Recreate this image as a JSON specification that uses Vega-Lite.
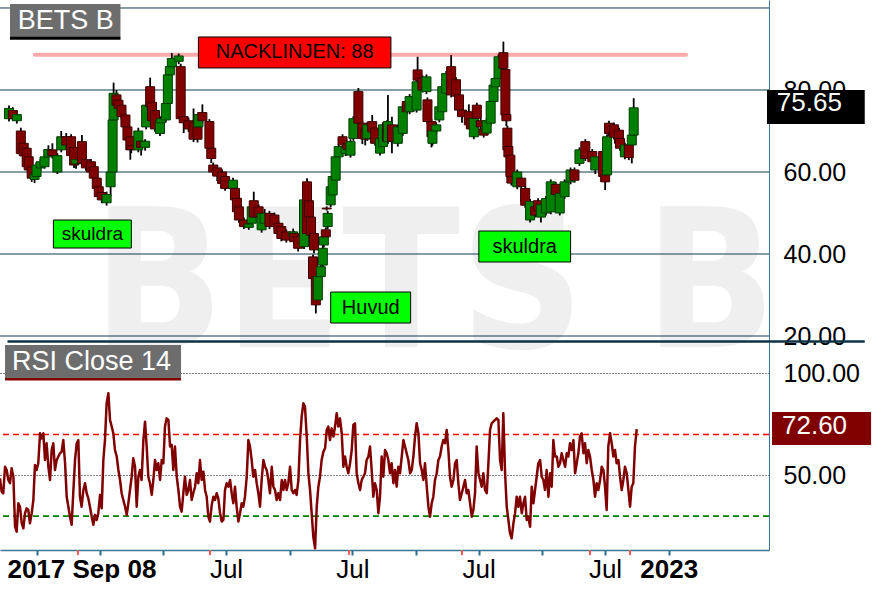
{
"$schema":"https://vega.github.io/schema/vega-lite/v6.json",
"padding":0,
"autosize":{"type":"pad"},
"bounds":"flush",
"spacing":0,
"background":"#ffffff",
"config":{"view":{"stroke":null},"font":"Liberation Sans"},
"datasets":{
"candles":[
{"t":2017.739,"o":73,"h":76.2,"l":72.3,"c":75.5},
{"t":2017.770,"o":75,"h":75.8,"l":72.5,"c":73},
{"t":2017.802,"o":72.5,"h":74.8,"l":71.8,"c":74},
{"t":2017.834,"o":70,"h":70.8,"l":63.8,"c":64.5},
{"t":2017.857,"o":67,"h":67.5,"l":63.2,"c":64},
{"t":2017.881,"o":65.8,"h":66.5,"l":60.5,"c":61.3},
{"t":2017.897,"o":63.7,"h":64.3,"l":59.8,"c":60.5},
{"t":2017.921,"o":61.3,"h":61.8,"l":57.6,"c":58.5},
{"t":2017.944,"o":58.2,"h":60,"l":57.3,"c":59.5},
{"t":2017.960,"o":58.9,"h":62.3,"l":58.2,"c":61.7},
{"t":2017.992,"o":61,"h":63.2,"l":60.3,"c":62.5},
{"t":2018.024,"o":61.3,"h":65.5,"l":60.8,"c":63.7},
{"t":2018.055,"o":63.7,"h":66.5,"l":63,"c":65.5},
{"t":2018.087,"o":65.4,"h":67,"l":63.3,"c":64},
{"t":2018.127,"o":60,"h":64.6,"l":59.5,"c":64},
{"t":2018.158,"o":65.4,"h":70,"l":64.8,"c":68.6},
{"t":2018.198,"o":68.6,"h":69.5,"l":65.8,"c":66.6},
{"t":2018.237,"o":68.6,"h":69.2,"l":63.2,"c":64},
{"t":2018.261,"o":66,"h":66.6,"l":61,"c":61.7},
{"t":2018.277,"o":62,"h":63.6,"l":60.8,"c":63},
{"t":2018.324,"o":67.4,"h":69,"l":61.5,"c":62.1},
{"t":2018.356,"o":63,"h":63.8,"l":60.3,"c":61},
{"t":2018.396,"o":62.5,"h":63.2,"l":59.4,"c":60},
{"t":2018.419,"o":61.3,"h":61.9,"l":57.8,"c":58.5},
{"t":2018.443,"o":58.5,"h":59.2,"l":55.4,"c":56},
{"t":2018.459,"o":56.4,"h":57,"l":53.4,"c":54},
{"t":2018.483,"o":55,"h":55.6,"l":52.4,"c":53.2},
{"t":2018.522,"o":52.5,"h":55.2,"l":51.8,"c":54.5},
{"t":2018.554,"o":56.4,"h":60.6,"l":54.2,"c":60},
{"t":2018.570,"o":60,"h":73.2,"l":59.6,"c":72.7},
{"t":2018.578,"o":72.7,"h":81.8,"l":72.2,"c":79.2},
{"t":2018.601,"o":78.8,"h":80,"l":75.7,"c":76.3},
{"t":2018.617,"o":77.5,"h":78.2,"l":74.8,"c":75.5},
{"t":2018.641,"o":76.3,"h":77,"l":72.8,"c":73.5},
{"t":2018.673,"o":73.9,"h":74.5,"l":70.4,"c":71},
{"t":2018.689,"o":71,"h":71.6,"l":67,"c":67.8},
{"t":2018.712,"o":68.6,"h":69.2,"l":63,"c":65.4},
{"t":2018.720,"o":66.5,"h":67.2,"l":64.6,"c":65.5},
{"t":2018.776,"o":65.4,"h":70.8,"l":64.8,"c":70},
{"t":2018.799,"o":67.5,"h":68.2,"l":64,"c":66},
{"t":2018.831,"o":66,"h":68,"l":65.2,"c":67.5},
{"t":2018.839,"o":71,"h":77,"l":70.4,"c":76.3},
{"t":2018.871,"o":80.8,"h":83,"l":75.4,"c":76},
{"t":2018.886,"o":77,"h":77.6,"l":71.8,"c":72.5},
{"t":2018.910,"o":75,"h":75.6,"l":69.8,"c":70.5},
{"t":2018.950,"o":69.4,"h":73.4,"l":68.8,"c":72.7},
{"t":2018.958,"o":72,"h":73.6,"l":71.4,"c":73},
{"t":2018.997,"o":72.7,"h":77.3,"l":72.1,"c":76.7},
{"t":2019.013,"o":76.7,"h":84.3,"l":76.2,"c":83.7},
{"t":2019.029,"o":83.7,"h":86.3,"l":83.1,"c":85.7},
{"t":2019.045,"o":85.7,"h":89,"l":85.1,"c":87.7},
{"t":2019.100,"o":87,"h":88.9,"l":86.3,"c":88.3},
{"t":2019.116,"o":85.7,"h":86.4,"l":72.3,"c":73},
{"t":2019.140,"o":73.5,"h":74.2,"l":69.5,"c":72},
{"t":2019.179,"o":72.5,"h":73.2,"l":69.8,"c":70.5},
{"t":2019.219,"o":72,"h":75.5,"l":67.3,"c":68},
{"t":2019.251,"o":71,"h":71.6,"l":67.2,"c":68},
{"t":2019.258,"o":71,"h":74.6,"l":70.3,"c":74},
{"t":2019.290,"o":74.5,"h":76.5,"l":71.8,"c":72.5},
{"t":2019.346,"o":72.3,"h":72.9,"l":65.2,"c":65.8},
{"t":2019.361,"o":65.8,"h":66.4,"l":62.2,"c":63.3},
{"t":2019.377,"o":61.7,"h":62.3,"l":59.3,"c":60},
{"t":2019.409,"o":61,"h":61.6,"l":57.8,"c":59},
{"t":2019.448,"o":60,"h":60.6,"l":56.3,"c":57.2},
{"t":2019.472,"o":58.9,"h":59.5,"l":55.4,"c":56},
{"t":2019.536,"o":56,"h":58.6,"l":55.4,"c":58},
{"t":2019.551,"o":56,"h":56.6,"l":52.5,"c":53.2},
{"t":2019.567,"o":53.6,"h":54.2,"l":49.6,"c":50.3},
{"t":2019.583,"o":51.5,"h":52.1,"l":47.6,"c":48.3},
{"t":2019.623,"o":48.3,"h":48.9,"l":46.1,"c":46.7},
{"t":2019.662,"o":46.5,"h":47.9,"l":45.9,"c":47.3},
{"t":2019.686,"o":47.5,"h":52.1,"l":46.9,"c":51.5},
{"t":2019.702,"o":53,"h":55.2,"l":48.4,"c":49},
{"t":2019.741,"o":51.5,"h":52.1,"l":48.4,"c":49},
{"t":2019.765,"o":45.9,"h":50.5,"l":45.2,"c":49.9},
{"t":2019.789,"o":47.5,"h":51,"l":46.9,"c":49.9},
{"t":2019.828,"o":49.9,"h":50.5,"l":46.1,"c":46.7},
{"t":2019.868,"o":49.5,"h":50.1,"l":46,"c":46.7},
{"t":2019.900,"o":47.5,"h":48.1,"l":44.3,"c":45},
{"t":2019.923,"o":46.7,"h":47.3,"l":43.1,"c":43.8},
{"t":2019.963,"o":45.4,"h":46,"l":42.8,"c":43.4},
{"t":2020.018,"o":44.2,"h":46.2,"l":43.6,"c":45.4},
{"t":2020.026,"o":45,"h":45.6,"l":42.3,"c":43},
{"t":2020.058,"o":44.2,"h":44.8,"l":40.6,"c":41.4},
{"t":2020.105,"o":41.8,"h":55,"l":41.2,"c":53.2},
{"t":2020.129,"o":57.6,"h":58.5,"l":44.4,"c":45},
{"t":2020.145,"o":53,"h":53.6,"l":48.4,"c":49},
{"t":2020.161,"o":49,"h":49.6,"l":44,"c":44.6},
{"t":2020.177,"o":39.3,"h":39.9,"l":33.3,"c":34},
{"t":2020.185,"o":45,"h":45.6,"l":40.2,"c":41},
{"t":2020.200,"o":34.5,"h":35.1,"l":25.5,"c":27.6},
{"t":2020.216,"o":28.8,"h":35.1,"l":28.2,"c":34.5},
{"t":2020.240,"o":34.5,"h":37.5,"l":33.9,"c":36.9},
{"t":2020.256,"o":37.3,"h":44,"l":36.7,"c":41.4},
{"t":2020.264,"o":42.2,"h":44.8,"l":41.6,"c":44.2},
{"t":2020.280,"o":45.9,"h":46.5,"l":43.6,"c":44.2},
{"t":2020.287,"o":51.2,"h":51.6,"l":50.6,"c":51},
{"t":2020.295,"o":46.7,"h":50.5,"l":46.1,"c":49.9},
{"t":2020.319,"o":52,"h":57,"l":51.4,"c":56.4},
{"t":2020.335,"o":54.4,"h":59.5,"l":53.8,"c":58.9},
{"t":2020.359,"o":58,"h":64.3,"l":57.4,"c":63.7},
{"t":2020.383,"o":63.7,"h":66.8,"l":63.1,"c":66.2},
{"t":2020.414,"o":68.6,"h":69.2,"l":66,"c":66.6},
{"t":2020.438,"o":64.5,"h":66.6,"l":63.9,"c":66},
{"t":2020.454,"o":67,"h":67.6,"l":64.9,"c":65.5},
{"t":2020.478,"o":64.1,"h":68,"l":63.5,"c":67.4},
{"t":2020.501,"o":68.2,"h":73.6,"l":67.6,"c":73},
{"t":2020.541,"o":79.6,"h":80.5,"l":71.3,"c":71.9},
{"t":2020.573,"o":71.9,"h":72.5,"l":66.8,"c":68.2},
{"t":2020.596,"o":70.5,"h":71.1,"l":66.5,"c":68},
{"t":2020.612,"o":68.2,"h":72.1,"l":67.6,"c":71.5},
{"t":2020.652,"o":72.3,"h":73.9,"l":69.2,"c":69.8},
{"t":2020.675,"o":70.7,"h":71.3,"l":66.4,"c":67},
{"t":2020.715,"o":64.6,"h":68.8,"l":64,"c":68.2},
{"t":2020.739,"o":66.2,"h":72.1,"l":65.6,"c":71.5},
{"t":2020.770,"o":72,"h":72.6,"l":66.9,"c":67.5},
{"t":2020.778,"o":67.4,"h":78.8,"l":66.8,"c":72.3},
{"t":2020.810,"o":71.5,"h":73.5,"l":64.6,"c":67.5},
{"t":2020.857,"o":67,"h":71.6,"l":66.2,"c":71},
{"t":2020.897,"o":69.4,"h":76.5,"l":68.8,"c":75.9},
{"t":2020.929,"o":77.2,"h":77.8,"l":74.1,"c":74.7},
{"t":2020.952,"o":74.7,"h":79,"l":74.1,"c":78.4},
{"t":2021.008,"o":75.1,"h":82.6,"l":74.5,"c":82},
{"t":2021.016,"o":84.9,"h":88.1,"l":81.8,"c":82.4},
{"t":2021.055,"o":83,"h":83.6,"l":79.4,"c":80},
{"t":2021.087,"o":79.6,"h":83.8,"l":79,"c":83.2},
{"t":2021.095,"o":77.6,"h":78.2,"l":71.7,"c":72.3},
{"t":2021.127,"o":72.3,"h":72.9,"l":66,"c":68.6},
{"t":2021.135,"o":67,"h":70.6,"l":66.4,"c":70},
{"t":2021.166,"o":70,"h":72.1,"l":69.4,"c":71.5},
{"t":2021.190,"o":72.7,"h":76.5,"l":72.1,"c":75.9},
{"t":2021.214,"o":74.7,"h":81.4,"l":74.1,"c":80.8},
{"t":2021.245,"o":79.2,"h":84.6,"l":78.6,"c":84},
{"t":2021.285,"o":85.7,"h":88.5,"l":78.2,"c":78.8},
{"t":2021.324,"o":82.5,"h":83.1,"l":77.9,"c":78.5},
{"t":2021.348,"o":78.8,"h":79.4,"l":74.5,"c":75.1},
{"t":2021.372,"o":75.1,"h":75.7,"l":72,"c":73.5},
{"t":2021.427,"o":74.7,"h":76.5,"l":70.9,"c":71.5},
{"t":2021.443,"o":73,"h":73.6,"l":69.9,"c":70.5},
{"t":2021.467,"o":68.6,"h":73.7,"l":68,"c":73.1},
{"t":2021.491,"o":76.3,"h":76.9,"l":72.5,"c":73.1},
{"t":2021.522,"o":72.5,"h":73.1,"l":70.4,"c":71},
{"t":2021.546,"o":70.5,"h":71.1,"l":68.4,"c":69},
{"t":2021.570,"o":69.5,"h":73.1,"l":68.9,"c":72.5},
{"t":2021.602,"o":71.9,"h":77.8,"l":71.3,"c":77.2},
{"t":2021.625,"o":77.2,"h":81.8,"l":76.6,"c":81.2},
{"t":2021.641,"o":80.8,"h":83.4,"l":80.2,"c":82.8},
{"t":2021.665,"o":82.8,"h":88.7,"l":82.2,"c":88.1},
{"t":2021.704,"o":89.1,"h":91.8,"l":84.7,"c":85.3},
{"t":2021.720,"o":85,"h":85.6,"l":73.3,"c":73.9},
{"t":2021.728,"o":74,"h":74.6,"l":71.2,"c":72.5},
{"t":2021.736,"o":70.7,"h":71.3,"l":64.8,"c":65.4},
{"t":2021.744,"o":66.2,"h":66.8,"l":63.1,"c":63.7},
{"t":2021.760,"o":64.1,"h":64.7,"l":58.3,"c":58.9},
{"t":2021.768,"o":58.9,"h":59.5,"l":56.7,"c":57.3},
{"t":2021.815,"o":56.4,"h":60.6,"l":55.8,"c":60},
{"t":2021.847,"o":58.5,"h":59.1,"l":52.7,"c":56.5},
{"t":2021.879,"o":56,"h":56.6,"l":51.3,"c":51.9},
{"t":2021.918,"o":48.3,"h":53.4,"l":47.7,"c":52.8},
{"t":2021.958,"o":51.5,"h":52.1,"l":48.9,"c":49.5},
{"t":2021.982,"o":53,"h":53.6,"l":49.9,"c":50.5},
{"t":2022.005,"o":49,"h":52.6,"l":47.7,"c":52},
{"t":2022.045,"o":50,"h":54.1,"l":49.4,"c":53.5},
{"t":2022.084,"o":50.3,"h":58.2,"l":49.7,"c":57.6},
{"t":2022.124,"o":57,"h":57.6,"l":53.9,"c":54.5},
{"t":2022.156,"o":50,"h":55.4,"l":49.4,"c":54.8},
{"t":2022.195,"o":54,"h":58.2,"l":53.4,"c":57.6},
{"t":2022.243,"o":57.6,"h":61.1,"l":57,"c":60.5},
{"t":2022.274,"o":60.5,"h":61.1,"l":57.4,"c":58},
{"t":2022.314,"o":62.1,"h":66,"l":61.5,"c":65.4},
{"t":2022.361,"o":67.4,"h":68,"l":62.7,"c":63.3},
{"t":2022.417,"o":65,"h":65.6,"l":61.9,"c":62.5},
{"t":2022.441,"o":60.5,"h":64.3,"l":59.5,"c":63.7},
{"t":2022.504,"o":65,"h":65.6,"l":58.3,"c":58.9},
{"t":2022.520,"o":59.3,"h":59.9,"l":55.6,"c":57.6},
{"t":2022.536,"o":59.3,"h":69.2,"l":58.7,"c":68.6},
{"t":2022.551,"o":71.9,"h":72.5,"l":68.8,"c":69.4},
{"t":2022.591,"o":71.5,"h":72.1,"l":67.9,"c":68.5},
{"t":2022.631,"o":70.2,"h":70.8,"l":66.4,"c":67},
{"t":2022.639,"o":68.2,"h":68.8,"l":65.2,"c":65.8},
{"t":2022.678,"o":63.7,"h":67.2,"l":63.1,"c":66.6},
{"t":2022.710,"o":66.6,"h":67.2,"l":62.9,"c":63.5},
{"t":2022.734,"o":66.6,"h":69.6,"l":62.1,"c":69},
{"t":2022.749,"o":69,"h":78,"l":68.4,"c":75.65}
],
"rsi":[
{"t":2017.707,"r":48.5},{"t":2017.720,"r":42.0},{"t":2017.733,"r":41.2},{"t":2017.747,"r":54.2},{"t":2017.760,"r":52.6},
{"t":2017.773,"r":47.7},{"t":2017.786,"r":46.1},{"t":2017.799,"r":53.4},{"t":2017.813,"r":49.3},{"t":2017.826,"r":24.8},
{"t":2017.839,"r":22.4},{"t":2017.852,"r":36.3},{"t":2017.865,"r":34.6},{"t":2017.879,"r":26.5},{"t":2017.892,"r":24.0},
{"t":2017.905,"r":31.4},{"t":2017.918,"r":33.8},{"t":2017.931,"r":33.0},{"t":2017.944,"r":26.5},{"t":2017.958,"r":31.4},
{"t":2017.971,"r":37.9},{"t":2017.984,"r":55.1},{"t":2017.997,"r":52.6},{"t":2018.010,"r":55.9},{"t":2018.024,"r":70.6},
{"t":2018.037,"r":68.1},{"t":2018.050,"r":70.6},{"t":2018.063,"r":57.5},{"t":2018.076,"r":65.7},{"t":2018.090,"r":54.2},
{"t":2018.103,"r":47.7},{"t":2018.116,"r":62.4},{"t":2018.129,"r":65.7},{"t":2018.142,"r":52.6},{"t":2018.156,"r":57.5},
{"t":2018.169,"r":59.2},{"t":2018.182,"r":60.8},{"t":2018.195,"r":61.6},{"t":2018.208,"r":67.3},{"t":2018.222,"r":55.9},
{"t":2018.235,"r":39.5},{"t":2018.248,"r":34.6},{"t":2018.261,"r":29.7},{"t":2018.274,"r":25.7},{"t":2018.288,"r":42.8},
{"t":2018.301,"r":57.5},{"t":2018.314,"r":65.7},{"t":2018.327,"r":67.3},{"t":2018.340,"r":39.5},{"t":2018.353,"r":34.6},
{"t":2018.367,"r":42.8},{"t":2018.380,"r":46.1},{"t":2018.393,"r":41.2},{"t":2018.406,"r":38.7},{"t":2018.419,"r":34.6},
{"t":2018.433,"r":29.7},{"t":2018.446,"r":25.7},{"t":2018.459,"r":30.6},{"t":2018.472,"r":28.1},{"t":2018.485,"r":31.4},
{"t":2018.499,"r":40.4},{"t":2018.512,"r":33.8},{"t":2018.525,"r":57.5},{"t":2018.538,"r":67.3},{"t":2018.551,"r":85.3},
{"t":2018.565,"r":90.2},{"t":2018.578,"r":77.1},{"t":2018.591,"r":73.9},{"t":2018.604,"r":70.6},{"t":2018.617,"r":62.4},
{"t":2018.631,"r":59.2},{"t":2018.644,"r":52.6},{"t":2018.657,"r":47.7},{"t":2018.670,"r":41.2},{"t":2018.683,"r":37.9},
{"t":2018.697,"r":34.6},{"t":2018.710,"r":30.6},{"t":2018.723,"r":36.3},{"t":2018.736,"r":42.8},{"t":2018.749,"r":49.3},
{"t":2018.762,"r":58.3},{"t":2018.776,"r":54.2},{"t":2018.789,"r":34.6},{"t":2018.802,"r":49.3},{"t":2018.815,"r":52.6},
{"t":2018.828,"r":47.7},{"t":2018.842,"r":67.3},{"t":2018.855,"r":76.3},{"t":2018.868,"r":64.1},{"t":2018.881,"r":49.3},
{"t":2018.894,"r":46.1},{"t":2018.908,"r":40.4},{"t":2018.921,"r":47.7},{"t":2018.934,"r":57.5},{"t":2018.947,"r":52.6},
{"t":2018.960,"r":55.9},{"t":2018.974,"r":47.7},{"t":2018.987,"r":57.5},{"t":2019.000,"r":55.9},{"t":2019.013,"r":73.9},
{"t":2019.026,"r":77.9},{"t":2019.040,"r":77.1},{"t":2019.053,"r":64.1},{"t":2019.066,"r":64.9},{"t":2019.079,"r":52.6},
{"t":2019.092,"r":64.1},{"t":2019.106,"r":49.3},{"t":2019.119,"r":42.8},{"t":2019.132,"r":34.6},{"t":2019.145,"r":32.2},
{"t":2019.158,"r":41.2},{"t":2019.171,"r":49.3},{"t":2019.185,"r":40.4},{"t":2019.198,"r":42.8},{"t":2019.211,"r":47.7},
{"t":2019.224,"r":37.9},{"t":2019.237,"r":41.2},{"t":2019.251,"r":44.4},{"t":2019.264,"r":51.0},{"t":2019.277,"r":46.1},
{"t":2019.290,"r":57.5},{"t":2019.303,"r":47.7},{"t":2019.317,"r":51.8},{"t":2019.330,"r":42.8},{"t":2019.343,"r":39.5},
{"t":2019.356,"r":29.7},{"t":2019.369,"r":27.3},{"t":2019.383,"r":35.5},{"t":2019.396,"r":39.5},{"t":2019.409,"r":37.9},
{"t":2019.422,"r":41.2},{"t":2019.435,"r":38.7},{"t":2019.449,"r":31.4},{"t":2019.462,"r":27.3},{"t":2019.475,"r":28.1},
{"t":2019.488,"r":42.8},{"t":2019.501,"r":46.1},{"t":2019.515,"r":44.4},{"t":2019.528,"r":47.7},{"t":2019.541,"r":41.2},
{"t":2019.554,"r":36.3},{"t":2019.567,"r":44.4},{"t":2019.580,"r":34.6},{"t":2019.594,"r":27.3},{"t":2019.607,"r":31.4},
{"t":2019.620,"r":36.3},{"t":2019.633,"r":34.6},{"t":2019.646,"r":39.5},{"t":2019.660,"r":49.3},{"t":2019.673,"r":67.3},
{"t":2019.686,"r":64.1},{"t":2019.699,"r":57.5},{"t":2019.712,"r":49.3},{"t":2019.726,"r":52.6},{"t":2019.739,"r":46.1},
{"t":2019.752,"r":41.2},{"t":2019.765,"r":34.6},{"t":2019.778,"r":47.7},{"t":2019.792,"r":57.5},{"t":2019.805,"r":54.2},
{"t":2019.818,"r":52.6},{"t":2019.831,"r":47.7},{"t":2019.844,"r":41.2},{"t":2019.858,"r":54.2},{"t":2019.871,"r":44.4},
{"t":2019.884,"r":42.8},{"t":2019.897,"r":37.9},{"t":2019.910,"r":41.2},{"t":2019.924,"r":37.9},{"t":2019.937,"r":47.7},
{"t":2019.950,"r":42.8},{"t":2019.963,"r":47.7},{"t":2019.976,"r":42.8},{"t":2019.989,"r":46.1},{"t":2020.003,"r":54.2},
{"t":2020.016,"r":42.8},{"t":2020.029,"r":41.2},{"t":2020.042,"r":42.8},{"t":2020.055,"r":40.4},{"t":2020.069,"r":47.7},
{"t":2020.082,"r":67.3},{"t":2020.095,"r":78.8},{"t":2020.108,"r":85.3},{"t":2020.121,"r":83.7},{"t":2020.135,"r":69.0},
{"t":2020.148,"r":51.0},{"t":2020.161,"r":42.8},{"t":2020.174,"r":31.4},{"t":2020.187,"r":19.9},{"t":2020.201,"r":14.2},
{"t":2020.214,"r":34.6},{"t":2020.227,"r":44.4},{"t":2020.240,"r":49.3},{"t":2020.253,"r":57.5},{"t":2020.267,"r":61.6},
{"t":2020.280,"r":63.2},{"t":2020.293,"r":72.2},{"t":2020.306,"r":73.9},{"t":2020.319,"r":67.3},{"t":2020.332,"r":73.0},
{"t":2020.346,"r":69.0},{"t":2020.359,"r":73.9},{"t":2020.372,"r":80.4},{"t":2020.385,"r":73.9},{"t":2020.398,"r":77.9},
{"t":2020.412,"r":70.6},{"t":2020.425,"r":54.2},{"t":2020.438,"r":59.2},{"t":2020.451,"r":54.2},{"t":2020.464,"r":51.0},
{"t":2020.478,"r":55.9},{"t":2020.491,"r":62.4},{"t":2020.504,"r":74.7},{"t":2020.517,"r":75.5},{"t":2020.530,"r":51.0},
{"t":2020.544,"r":46.1},{"t":2020.557,"r":42.8},{"t":2020.570,"r":47.7},{"t":2020.583,"r":49.3},{"t":2020.596,"r":51.0},
{"t":2020.609,"r":57.5},{"t":2020.623,"r":59.2},{"t":2020.636,"r":64.1},{"t":2020.649,"r":52.6},{"t":2020.662,"r":39.5},
{"t":2020.675,"r":46.1},{"t":2020.689,"r":42.8},{"t":2020.702,"r":31.4},{"t":2020.715,"r":39.5},{"t":2020.728,"r":59.2},
{"t":2020.741,"r":49.3},{"t":2020.755,"r":62.4},{"t":2020.768,"r":60.8},{"t":2020.781,"r":57.5},{"t":2020.794,"r":51.0},
{"t":2020.807,"r":55.9},{"t":2020.821,"r":46.1},{"t":2020.834,"r":52.6},{"t":2020.847,"r":44.4},{"t":2020.860,"r":54.2},
{"t":2020.873,"r":51.0},{"t":2020.887,"r":59.2},{"t":2020.900,"r":67.3},{"t":2020.913,"r":64.1},{"t":2020.926,"r":60.8},
{"t":2020.939,"r":57.5},{"t":2020.953,"r":51.0},{"t":2020.966,"r":52.6},{"t":2020.979,"r":59.2},{"t":2020.992,"r":69.0},
{"t":2021.005,"r":75.5},{"t":2021.019,"r":70.6},{"t":2021.032,"r":55.9},{"t":2021.045,"r":52.6},{"t":2021.058,"r":47.7},
{"t":2021.071,"r":55.9},{"t":2021.085,"r":44.4},{"t":2021.098,"r":34.6},{"t":2021.111,"r":29.7},{"t":2021.124,"r":36.3},
{"t":2021.137,"r":39.5},{"t":2021.150,"r":47.7},{"t":2021.164,"r":51.0},{"t":2021.177,"r":57.5},{"t":2021.190,"r":59.2},
{"t":2021.203,"r":64.1},{"t":2021.216,"r":67.3},{"t":2021.230,"r":65.7},{"t":2021.243,"r":72.2},{"t":2021.256,"r":62.4},
{"t":2021.269,"r":49.3},{"t":2021.282,"r":44.4},{"t":2021.296,"r":47.7},{"t":2021.309,"r":55.9},{"t":2021.322,"r":57.5},
{"t":2021.335,"r":46.1},{"t":2021.348,"r":37.9},{"t":2021.362,"r":41.2},{"t":2021.375,"r":44.4},{"t":2021.388,"r":47.7},
{"t":2021.401,"r":41.2},{"t":2021.414,"r":42.8},{"t":2021.428,"r":36.3},{"t":2021.441,"r":29.7},{"t":2021.454,"r":33.0},
{"t":2021.467,"r":41.2},{"t":2021.480,"r":64.1},{"t":2021.494,"r":51.0},{"t":2021.507,"r":47.7},{"t":2021.520,"r":44.4},
{"t":2021.533,"r":51.0},{"t":2021.546,"r":42.8},{"t":2021.560,"r":41.2},{"t":2021.573,"r":55.9},{"t":2021.586,"r":72.2},
{"t":2021.599,"r":75.5},{"t":2021.612,"r":76.3},{"t":2021.625,"r":77.1},{"t":2021.639,"r":77.9},{"t":2021.652,"r":77.1},
{"t":2021.665,"r":57.5},{"t":2021.678,"r":52.6},{"t":2021.691,"r":80.4},{"t":2021.705,"r":51.0},{"t":2021.718,"r":34.6},
{"t":2021.731,"r":28.1},{"t":2021.744,"r":21.6},{"t":2021.757,"r":19.1},{"t":2021.771,"r":26.5},{"t":2021.784,"r":31.4},
{"t":2021.797,"r":39.5},{"t":2021.810,"r":34.6},{"t":2021.823,"r":39.5},{"t":2021.837,"r":31.4},{"t":2021.850,"r":36.3},
{"t":2021.863,"r":39.5},{"t":2021.876,"r":28.1},{"t":2021.889,"r":29.7},{"t":2021.903,"r":24.8},{"t":2021.916,"r":44.4},
{"t":2021.929,"r":36.3},{"t":2021.942,"r":42.8},{"t":2021.955,"r":49.3},{"t":2021.968,"r":55.9},{"t":2021.982,"r":57.5},
{"t":2021.995,"r":49.3},{"t":2022.008,"r":47.7},{"t":2022.021,"r":42.8},{"t":2022.034,"r":52.6},{"t":2022.048,"r":39.5},
{"t":2022.061,"r":51.0},{"t":2022.074,"r":44.4},{"t":2022.087,"r":67.3},{"t":2022.100,"r":59.2},{"t":2022.114,"r":59.2},
{"t":2022.127,"r":54.2},{"t":2022.140,"r":55.9},{"t":2022.153,"r":60.8},{"t":2022.166,"r":57.5},{"t":2022.180,"r":54.2},
{"t":2022.193,"r":60.8},{"t":2022.206,"r":59.2},{"t":2022.219,"r":65.7},{"t":2022.232,"r":62.4},{"t":2022.246,"r":67.3},
{"t":2022.259,"r":51.0},{"t":2022.272,"r":55.9},{"t":2022.285,"r":60.8},{"t":2022.298,"r":69.0},{"t":2022.311,"r":70.6},
{"t":2022.325,"r":60.8},{"t":2022.338,"r":65.7},{"t":2022.351,"r":55.9},{"t":2022.364,"r":62.4},{"t":2022.377,"r":59.2},
{"t":2022.391,"r":52.6},{"t":2022.404,"r":47.7},{"t":2022.417,"r":39.5},{"t":2022.430,"r":46.1},{"t":2022.443,"r":42.8},
{"t":2022.457,"r":47.7},{"t":2022.470,"r":54.2},{"t":2022.483,"r":52.6},{"t":2022.496,"r":44.4},{"t":2022.509,"r":33.0},
{"t":2022.522,"r":64.1},{"t":2022.536,"r":70.6},{"t":2022.549,"r":65.7},{"t":2022.562,"r":59.2},{"t":2022.575,"r":62.4},
{"t":2022.588,"r":55.9},{"t":2022.602,"r":57.5},{"t":2022.615,"r":49.3},{"t":2022.628,"r":42.8},{"t":2022.641,"r":47.7},
{"t":2022.654,"r":54.2},{"t":2022.668,"r":51.0},{"t":2022.681,"r":42.8},{"t":2022.694,"r":34.6},{"t":2022.707,"r":44.4},
{"t":2022.720,"r":46.1},{"t":2022.733,"r":64.1},{"t":2022.747,"r":72.6}
]
},
"vconcat":[
{
"width":769,"height":342,
"data":{"values":[{}]},
"resolve":{"axis":{"x":"independent","y":"independent"}},
"layer":[
{"mark":{"type":"text","text":"BETS B","font":"DejaVu Sans Condensed","fontWeight":"bold","fontSize":192,"color":"#efefef","align":"center","baseline":"alphabetic"},
 "encoding":{"x":{"datum":2021.15,"type":"quantitative","scale":{"domain":[2017.707,2023.794],"nice":false,"zero":false},"axis":null},
 "y":{"datum":17.3,"type":"quantitative","scale":{"domain":[18.54,101.95],"nice":false,"zero":false},"axis":null}}},
{"data":{"values":[{"g":20},{"g":40},{"g":60},{"g":80},{"g":100}]},
 "mark":{"type":"rule","color":"#0e3b50","strokeWidth":1,"clip":true},
 "encoding":{"y":{"field":"g","type":"quantitative","axis":null}}},
{"mark":{"type":"rule","color":"#ffabab","strokeWidth":4,"strokeCap":"round"},
 "encoding":{"x":{"datum":2017.945,"type":"quantitative","axis":null},"x2":{"datum":2023.169},"y":{"datum":88.6,"type":"quantitative","axis":null}}},
{"data":{"name":"candles"},
 "mark":{"type":"rule","color":"#000000","strokeWidth":1.8,"clip":true},
 "encoding":{"x":{"field":"t","type":"quantitative","axis":null},"y":{"field":"l","type":"quantitative","axis":null},"y2":{"field":"h"}}},
{"data":{"name":"candles"},
 "mark":{"type":"bar","size":9,"strokeWidth":1,"clip":true},
 "encoding":{"x":{"field":"t","type":"quantitative","axis":null,"scale":{"domain":[2017.707,2023.794],"nice":false,"zero":false}},
 "y":{"field":"o","type":"quantitative","scale":{"domain":[18.54,101.95],"nice":false,"zero":false},
  "axis":{"orient":"right","values":[20,40,60,80],"format":".2f","grid":false,"ticks":false,"domain":true,"domainColor":"#3f7595","domainWidth":1,"labelFont":"Liberation Sans","labelFontSize":25,"labelColor":"#000000","labelPadding":14,"labelOverlap":false,"labelBound":false,"title":null}},
 "y2":{"field":"c"},
 "fill":{"condition":{"test":"datum.c >= datum.o","value":"#008000"},"value":"#800000"},
 "stroke":{"condition":{"test":"datum.c >= datum.o","value":"#003c00"},"value":"#3c0000"}}},
{"mark":{"type":"rect","fill":"#ff0000","stroke":"#000000","strokeWidth":1},
 "encoding":{"x":{"datum":2019.258,"type":"quantitative","axis":null},"x2":{"datum":2020.802},"y":{"datum":92.93,"type":"quantitative","axis":null},"y2":{"datum":85.37}}},
{"mark":{"type":"text","text":"NACKLINJEN: 88","fontSize":20,"color":"#000000","align":"center","baseline":"middle"},
 "encoding":{"x":{"datum":2020.03,"type":"quantitative","axis":null},"y":{"datum":89.15,"type":"quantitative","axis":null}}},
{"mark":{"type":"rect","fill":"#00ff00","stroke":"#000000","strokeWidth":1},
 "encoding":{"x":{"datum":2018.095,"type":"quantitative","axis":null},"x2":{"datum":2018.72},"y":{"datum":48.29,"type":"quantitative","axis":null},"y2":{"datum":41.46}}},
{"mark":{"type":"text","text":"skuldra","fontSize":19,"color":"#000000","align":"center","baseline":"middle"},
 "encoding":{"x":{"datum":2018.408,"type":"quantitative","axis":null},"y":{"datum":44.88,"type":"quantitative","axis":null}}},
{"mark":{"type":"rect","fill":"#00ff00","stroke":"#000000","strokeWidth":1},
 "encoding":{"x":{"datum":2020.319,"type":"quantitative","axis":null},"x2":{"datum":2020.96},"y":{"datum":30.73,"type":"quantitative","axis":null},"y2":{"datum":23.17}}},
{"mark":{"type":"text","text":"Huvud","fontSize":20,"color":"#000000","align":"center","baseline":"middle"},
 "encoding":{"x":{"datum":2020.64,"type":"quantitative","axis":null},"y":{"datum":26.95,"type":"quantitative","axis":null}}},
{"mark":{"type":"rect","fill":"#00ff00","stroke":"#000000","strokeWidth":1},
 "encoding":{"x":{"datum":2021.507,"type":"quantitative","axis":null},"x2":{"datum":2022.243},"y":{"datum":45.61,"type":"quantitative","axis":null},"y2":{"datum":38.05}}},
{"mark":{"type":"text","text":"skuldra","fontSize":20,"color":"#000000","align":"center","baseline":"middle"},
 "encoding":{"x":{"datum":2021.875,"type":"quantitative","axis":null},"y":{"datum":41.83,"type":"quantitative","axis":null}}},
{"mark":{"type":"rect","fill":"#6d6d6d"},
 "encoding":{"x":{"datum":2017.747,"type":"quantitative","axis":null},"x2":{"datum":2018.633},"y":{"datum":100.98,"type":"quantitative","axis":null},"y2":{"datum":92.93}}},
{"mark":{"type":"rule","color":"#000000","strokeWidth":3},
 "encoding":{"x":{"datum":2017.747,"type":"quantitative","axis":null},"x2":{"datum":2018.633},"y":{"datum":92.6,"type":"quantitative","axis":null}}},
{"mark":{"type":"text","text":"BETS B","fontSize":27,"color":"#ffffff","align":"left","baseline":"middle"},
 "encoding":{"x":{"datum":2017.81,"type":"quantitative","axis":null},"y":{"datum":96.95,"type":"quantitative","axis":null}}},
{"mark":{"type":"rect","fill":"#000000"},
 "encoding":{"x":{"datum":2023.818,"type":"quantitative","axis":null},"x2":{"datum":2024.602},"y":{"datum":80,"type":"quantitative","axis":null},"y2":{"datum":71.71}}},
{"mark":{"type":"text","text":"75.65","fontSize":26,"color":"#ffffff","align":"left","baseline":"middle"},
 "encoding":{"x":{"datum":2023.897,"type":"quantitative","axis":null},"y":{"datum":76.8,"type":"quantitative","axis":null}}},
{"mark":{"type":"rule","color":"#0b3345","strokeWidth":2.5},
 "encoding":{"x":{"datum":2017.727,"type":"quantitative","axis":null},"x2":{"datum":2024.602},"y":{"datum":18.66,"type":"quantitative","axis":null}}}
]
},
{
"width":769,"height":208,
"data":{"values":[{}]},
"resolve":{"axis":{"x":"independent","y":"independent"}},
"layer":[
{"mark":{"type":"rule","color":"#ff0000","strokeWidth":1.6,"strokeDash":[6,4],"clip":true},
 "encoding":{"y":{"datum":70,"type":"quantitative","scale":{"domain":[13.38,115.34],"nice":false,"zero":false},"axis":null}}},
{"mark":{"type":"rule","color":"#008000","strokeWidth":1.6,"strokeDash":[6,4],"clip":true},
 "encoding":{"y":{"datum":30,"type":"quantitative","axis":null}}},
{"data":{"values":[{"d":2018.324},{"d":2019.369},{"d":2020.47},{"d":2021.364},{"d":2022.377},{"d":2022.694}]},
 "mark":{"type":"rule","color":"#ff5a5a","strokeWidth":2},
 "encoding":{"x":{"field":"d","type":"quantitative","axis":null},"y":{"datum":13.38,"type":"quantitative","axis":null},"y2":{"datum":10.9}}},
{"data":{"name":"rsi"},
 "mark":{"type":"line","color":"#800000","strokeWidth":2.5,"strokeJoin":"round","clip":true},
 "encoding":{
 "x":{"field":"t","type":"quantitative","scale":{"domain":[2017.707,2023.794],"nice":false,"zero":false},
  "axis":{"orient":"bottom","values":[2017.762,2018,2018.496,2019,2019.496,2020,2020.496,2021,2021.496,2022,2022.496,2023],
   "labelExpr":"datum.value < 2018 ? '2017 Sep 08' : (datum.value > 2022.9 ? '2023' : ((datum.value > 2018.6 && abs(datum.value - round(datum.value)) > 0.1) ? 'Jul' : ''))",
   "labelFontWeight":{"condition":{"test":"datum.value < 2018 || datum.value > 2022.9","value":"bold"},"value":"normal"},
   "labelAlign":{"condition":{"test":"datum.value < 2018","value":"left"},"value":"center"},
   "tickOpacity":{"condition":{"test":"datum.value < 2018","value":0},"value":1},
   "labelOverlap":false,"labelBound":false,"labelFlush":false,
   "labelFont":"Liberation Sans","labelFontSize":26,"labelColor":"#000000","labelPadding":1,
   "tickSize":5,"tickWidth":2,"tickColor":"#2d6a8a","domainColor":"#3d7393","domainWidth":1.5,"grid":false,"title":null}},
 "y":{"field":"r","type":"quantitative","scale":{"domain":[13.38,115.34],"nice":false,"zero":false},
  "axis":{"orient":"right","values":[50,100],"format":".2f","grid":true,"gridColor":"#000000","gridDash":[1,2],"gridWidth":1,"ticks":false,"domainColor":"#3d7393","domainWidth":1,"labelFont":"Liberation Sans","labelFontSize":25,"labelColor":"#000000","labelPadding":14,"labelOverlap":false,"labelBound":false,"title":null}}}},
{"mark":{"type":"rect","fill":"#6d6d6d"},
 "encoding":{"x":{"datum":2017.747,"type":"quantitative","axis":null},"x2":{"datum":2019.14},"y":{"datum":113.87,"type":"quantitative","axis":null},"y2":{"datum":97.7}}},
{"mark":{"type":"rule","color":"#800000","strokeWidth":2.5},
 "encoding":{"x":{"datum":2017.747,"type":"quantitative","axis":null},"x2":{"datum":2019.14},"y":{"datum":97.1,"type":"quantitative","axis":null}}},
{"mark":{"type":"text","text":"RSI Close 14","fontSize":27,"color":"#ffffff","align":"left","baseline":"middle"},
 "encoding":{"x":{"datum":2017.802,"type":"quantitative","axis":null},"y":{"datum":105.78,"type":"quantitative","axis":null}}},
{"mark":{"type":"rect","fill":"#800000"},
 "encoding":{"x":{"datum":2023.818,"type":"quantitative","axis":null},"x2":{"datum":2024.602},"y":{"datum":81.03,"type":"quantitative","axis":null},"y2":{"datum":64.85}}},
{"mark":{"type":"text","text":"72.60","fontSize":26,"color":"#ffffff","align":"left","baseline":"middle"},
 "encoding":{"x":{"datum":2023.897,"type":"quantitative","axis":null},"y":{"datum":74.2,"type":"quantitative","axis":null}}}
]
}
]
}
